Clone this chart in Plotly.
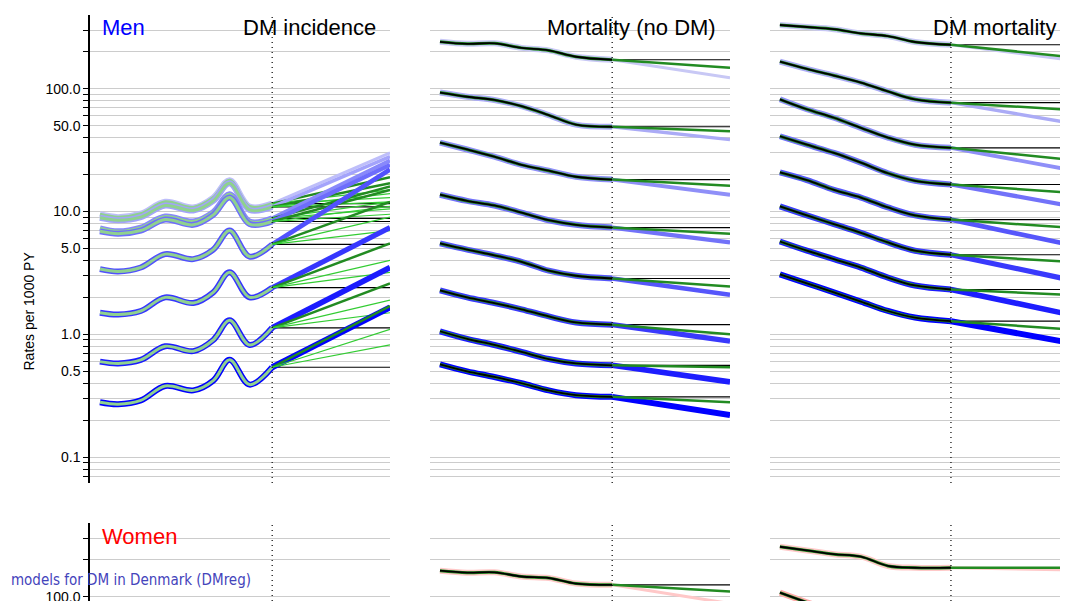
import plotly.graph_objects as go

# ---- data ----
inc_years = [1998, 2000, 2002.5, 2005.2, 2008.3, 2010.5, 2012.3, 2014.5, 2017]
men_inc = [
    [9.5, 9.0, 9.6, 12.0, 10.8, 13.0, 18.0, 11.0, 11.6],
    [8.9, 8.5, 9.0, 11.2, 10.2, 12.2, 17.0, 10.3, 10.9],
    [7.3, 6.9, 7.4, 9.1, 8.3, 9.9, 13.8, 8.3, 8.8],
    [6.9, 6.6, 7.0, 8.6, 7.8, 9.4, 13.0, 7.9, 8.3],
    [3.4, 3.25, 3.5, 4.5, 4.1, 4.9, 7.0, 4.3, 5.4],
    [1.5, 1.45, 1.55, 2.0, 1.8, 2.2, 3.2, 2.0, 2.4],
    [0.6, 0.58, 0.62, 0.8, 0.73, 0.9, 1.3, 0.82, 1.13],
    [0.28, 0.27, 0.29, 0.38, 0.35, 0.42, 0.62, 0.39, 0.54],
]
men_inc_blue = [30, 28, 26, 24, 22, 7.4, 3.5, 1.66]
men_inc_green = [[19, 15, 13], [17, 14, 12], [16, 12, 10.5], [15, 11, 9.5],
                 [12, 9, 7], [5.5, 4, 3.2], [2.6, 1.9, 1.5], [1.7, 1.1, 0.82]]

mort_years = [1998, 2001, 2004, 2007, 2010, 2013, 2017]
men_mort = [
    [241, 232, 234, 215, 205, 182, 172],
    [93, 86, 81, 72, 61, 51, 49],
    [36.4, 32, 28, 24, 21.5, 19.2, 18.2],
    [13.7, 12.2, 11.2, 9.8, 8.5, 7.8, 7.4],
    [5.5, 4.9, 4.4, 3.9, 3.3, 3.0, 2.85],
    [2.28, 2.0, 1.8, 1.6, 1.4, 1.25, 1.2],
    [1.06, 0.92, 0.82, 0.72, 0.63, 0.58, 0.56],
    [0.57, 0.5, 0.45, 0.4, 0.35, 0.32, 0.31],
]
men_mort_blue = [123, 38.5, 13.7, 5.6, 2.1, 0.88, 0.41, 0.22]
men_mort_green = [148, 45, 16.2, 6.6, 2.45, 1.0, 0.54, 0.28]

men_dmm = [
    [330, 318, 305, 282, 268, 240, 228],
    [166, 145, 128, 112, 95, 82, 77],
    [82, 68, 58, 48, 40, 35, 33],
    [41, 35, 30, 25, 20.5, 17.8, 16.6],
    [20.8, 18, 15, 13, 10.8, 9.3, 8.6],
    [11, 9.3, 7.9, 6.7, 5.6, 4.8, 4.45],
    [5.7, 4.8, 4.1, 3.5, 2.9, 2.5, 2.32],
    [3.08, 2.6, 2.2, 1.85, 1.55, 1.37, 1.28],
]
men_dmm_blue = [172, 53, 22, 11.2, 5.4, 2.8, 1.46, 0.86]
men_dmm_green = [182, 67.5, 26.5, 14.3, 7.4, 3.9, 2.1, 1.1]

women_mort = [[163, 157, 158, 146, 142, 128, 125]]
women_mort_blue = [88]
women_mort_green = [110]
women_dmm = [[255, 238, 222, 212, 178, 172, 172], [108, 90, 76, 64, 53, 46, 44]]
women_dmm_blue = [165, 32]
women_dmm_green = [172, 37]

grid_vals = [k * d for d in [0.01, 0.1, 1, 10, 100] for k in range(1, 10)]
label_vals = {0.1: "0.1", 0.5: "0.5", 1: "1.0", 5: "5.0", 10: "10.0", 50: "50.0", 100: "100.0"}

X_RANGE = [1996.9, 2030]
PROJ_START, PROJ_END = 2017, 2030

# page body adds an 8px offset, so positions are taken relative to that
OFF = 8
W = 1060
H = 1000


def px_x(p):
    return (p - OFF) / W


def px_y(p):
    return 1 - (p - OFF) / H


x_domains = [[px_x(90), px_x(390)], [px_x(430), px_x(730)], [px_x(770), px_x(1068)]]
y_domains = [[px_y(483), px_y(15)], [px_y(991), px_y(523)]]

fig = go.Figure()


def mix(c1, c2, t):
    return "rgb(%d,%d,%d)" % tuple(round(a + (b - a) * t) for a, b in zip(c1, c2))


def add_panel(idx, years, series, blue_ends, green_ends, light, dark, black_line):
    ax = "" if idx == 1 else str(idx)
    n = len(series)
    for i, s in enumerate(series):
        t = i / max(n - 1, 1)
        col = mix(light, dark, t)
        last = s[-1]
        fig.add_trace(go.Scatter(x=[PROJ_START, PROJ_END], y=[last, last], mode="lines",
                                 line=dict(color="black", width=1.2), xaxis="x" + ax, yaxis="y" + ax))
        fig.add_trace(go.Scatter(x=[PROJ_START, PROJ_END], y=[last, blue_ends[i]], mode="lines",
                                 line=dict(color=col, width=3 + 3 * t), xaxis="x" + ax, yaxis="y" + ax))
        greens = green_ends[i] if isinstance(green_ends[i], list) else [green_ends[i]]
        for j, g in enumerate(greens):
            fig.add_trace(go.Scatter(x=[PROJ_START, PROJ_END], y=[last, g], mode="lines",
                                     line=dict(color="#228b22" if j == 0 else "#33cc33",
                                               width=2.5 if j == 0 else 1.2),
                                     xaxis="x" + ax, yaxis="y" + ax))
        fig.add_trace(go.Scatter(x=years, y=s, mode="lines", line=dict(color=col, width=6, shape="spline"),
                                 xaxis="x" + ax, yaxis="y" + ax))
        fig.add_trace(go.Scatter(x=years, y=s, mode="lines",
                                 line=dict(color="#228b22" if black_line else "#8fd18f", width=3, shape="spline"),
                                 xaxis="x" + ax, yaxis="y" + ax))
        if black_line:
            fig.add_trace(go.Scatter(x=years, y=s, mode="lines", line=dict(color="black", width=1.8, shape="spline"),
                                     xaxis="x" + ax, yaxis="y" + ax))


BLUE_L, BLUE_D = (200, 200, 245), (0, 0, 255)
PINK_L, PINK_D = (255, 200, 200), (255, 170, 170)

add_panel(1, inc_years, men_inc, men_inc_blue, men_inc_green, (190, 190, 250), BLUE_D, False)
add_panel(2, mort_years, men_mort, men_mort_blue, men_mort_green, BLUE_L, BLUE_D, True)
add_panel(3, mort_years, men_dmm, men_dmm_blue, men_dmm_green, BLUE_L, BLUE_D, True)
add_panel(5, mort_years, women_mort, women_mort_blue, women_mort_green, PINK_L, PINK_D, True)
add_panel(6, mort_years, women_dmm, women_dmm_blue, women_dmm_green, PINK_L, PINK_D, True)

layout = dict(width=W, height=H, margin=dict(l=0, r=0, t=0, b=0),
              plot_bgcolor="white", paper_bgcolor="white", showlegend=False,
              font=dict(family="Liberation Sans, Arial", color="black"))
shapes = []
for r in range(2):
    for c in range(3):
        idx = r * 3 + c + 1
        ax = "" if idx == 1 else str(idx)
        layout["xaxis" + ax] = dict(domain=x_domains[c], range=X_RANGE, anchor="y" + ax,
                                    showgrid=False, showticklabels=False, ticks="", zeroline=False)
        layout["yaxis" + ax] = dict(domain=y_domains[r], type="log", range=[-1.21, 2.6], anchor="x" + ax,
                                    tickvals=grid_vals,
                                    ticktext=[label_vals.get(v, "") for v in grid_vals],
                                    showticklabels=(c == 0), ticks="outside" if c == 0 else "",
                                    ticklen=5, tickcolor="black", showline=(c == 0), linecolor="black",
                                    linewidth=1.5, gridcolor="#cccccc", gridwidth=1, zeroline=False,
                                    tickfont=dict(size=14))
        shapes.append(dict(type="line", xref="x" + ax, yref="y" + ax + " domain", x0=2017, x1=2017,
                           y0=0, y1=1, line=dict(color="black", width=1.2, dash="1px,4px")))
layout["shapes"] = shapes

titles = [(100, 27, "Men", "blue", "left"), (378, 27, "DM incidence", "black", "right"),
          (718, 27, "Mortality (no DM)", "black", "right"),
          (1058, 27, "DM mortality", "black", "right"),
          (100, 536, "Women", "red", "left")]
ann = [dict(x=px_x(x), y=px_y(y), xref="paper", yref="paper", text=t, showarrow=False,
            xanchor=a, yanchor="middle", font=dict(size=22, color=col)) for x, y, t, col, a in titles]
ann.append(dict(x=px_x(18), y=px_y(250), xref="paper", yref="paper", text="Rates per 1000 PY",
                showarrow=False, textangle=-90, font=dict(size=14)))
ann.append(dict(x=px_x(253), y=px_y(580), xref="paper", yref="paper",
                text="Projection models for DM in Denmark (DMreg)", showarrow=False, xanchor="right",
                font=dict(size=15, color="#4444bb", family="DejaVu Sans Condensed, DejaVu Sans")))
layout["annotations"] = ann

fig.update_layout(**layout)
fig.write_html("out.html")
